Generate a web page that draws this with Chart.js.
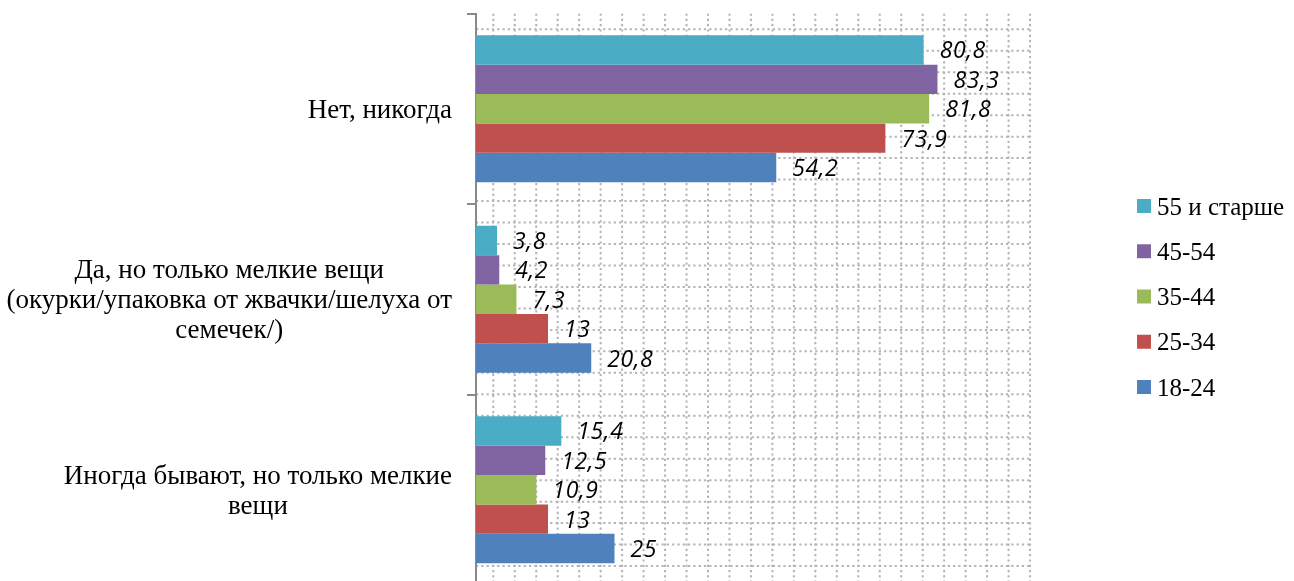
<!DOCTYPE html>
<html>
<head>
<meta charset="utf-8">
<script src="https://cdn.jsdelivr.net/npm/chart.js@4"></script>
<style>
  html, body { margin: 0; padding: 0; overflow: hidden; background: #fff; }
</style>
</head>
<body>
<canvas id="litter-chart" width="1294" height="592"></canvas>
<script>
// answers (multi-line labels) and age groups
const categories = [
  ['Нет, никогда'],
  ['Да, но только мелкие вещи', '(окурки/упаковка от жвачки/шелуха от', 'семечек/)'],
  ['Иногда бывают, но только мелкие', 'вещи']
];
const ageGroups = ['55 и старше', '45-54', '35-44', '25-34', '18-24'];

// percent per answer, one array per age group
const age55plus = [80.8, 3.8, 15.4];
const age45to54 = [83.3, 4.2, 12.5];
const age35to44 = [81.8, 7.3, 10.9];
const age25to34 = [73.9, 13, 13];
const age18to24 = [54.2, 20.8, 25];

const barColors = ['#4bacc6', '#8064a2', '#9bbb59', '#c0504d', '#4f81bd'];
const seriesValues = [age55plus, age45to54, age35to44, age25to34, age18to24];

// dotted background grid behind the bars
const dottedGrid = {
  id: 'dottedGrid',
  beforeDatasetsDraw(chart) {
    const { ctx } = chart;
    const { left, right, top, bottom } = chart.chartArea;
    const step = 21.47;
    ctx.save();
    ctx.beginPath();
    ctx.rect(left + 1, top, right - left + 2, bottom - top);
    ctx.clip();
    ctx.strokeStyle = '#b3b3b3';
    ctx.lineWidth = 2;
    ctx.setLineDash([2.2, 3.1]);
    for (let x = left + 17.3; x <= right + 1; x += step) {
      ctx.beginPath();
      ctx.moveTo(x, top);
      ctx.lineTo(x, bottom);
      ctx.stroke();
    }
    for (let y = top + 15.8; y <= bottom; y += step) {
      ctx.beginPath();
      ctx.moveTo(left, y);
      ctx.lineTo(right, y);
      ctx.stroke();
    }
    ctx.restore();
  }
};

// value next to the end of every bar, decimal comma
const valueLabels = {
  id: 'valueLabels',
  afterDatasetsDraw(chart) {
    const { ctx } = chart;
    ctx.save();
    ctx.font = 'italic 23px "Open Sans"';
    ctx.letterSpacing = '0.6px';
    ctx.fillStyle = '#000';
    ctx.textAlign = 'left';
    ctx.textBaseline = 'middle';
    chart.data.datasets.forEach((ds, i) => {
      chart.getDatasetMeta(i).data.forEach((bar, j) => {
        const txt = String(ds.data[j]).replace('.', ',');
        ctx.fillText(txt, bar.x + 16, bar.y + 2);
      });
    });
    ctx.restore();
  }
};

// category names, each block centred on itself and right-aligned to the axis
const categoryLabels = {
  id: 'categoryLabels',
  afterDraw(chart) {
    const { ctx } = chart;
    const yScale = chart.scales.y;
    const right = chart.chartArea.left - 24;
    ctx.save();
    ctx.font = '27px "Liberation Serif"';
    ctx.fillStyle = '#000';
    ctx.textAlign = 'center';
    ctx.textBaseline = 'middle';
    chart.data.labels.forEach((lines, i) => {
      const widest = Math.max(...lines.map(l => ctx.measureText(l).width));
      const cx = right - widest / 2;
      const cy = yScale.getPixelForValue(i) + 2;
      lines.forEach((line, k) => {
        ctx.fillText(line, cx, cy + (k - (lines.length - 1) / 2) * 30);
      });
    });
    ctx.restore();
  }
};

// legend on the right: coloured squares and serif text
const sideLegend = {
  id: 'sideLegend',
  afterDraw(chart) {
    const { ctx } = chart;
    const x = chart.chartArea.right + 107;
    const y0 = 206;
    ctx.save();
    ctx.font = '25px "Liberation Serif"';
    ctx.textAlign = 'left';
    ctx.textBaseline = 'middle';
    chart.data.datasets.forEach((ds, i) => {
      const y = y0 + i * 45.25;
      ctx.fillStyle = ds.backgroundColor;
      ctx.fillRect(x, y - 7, 14, 14);
      ctx.fillStyle = '#000';
      ctx.fillText(ds.label, x + 20, y + 2);
    });
    ctx.restore();
  }
};

const chartCanvas = document.querySelector('#litter-chart');
const contex = chartCanvas.getContext('2d');

new Chart(contex, {
  type: 'bar',
  data: {
    labels: categories,
    datasets: ageGroups.map((name, i) => ({
      label: name,
      data: seriesValues[i],
      backgroundColor: barColors[i],
      borderWidth: 0,
      categoryPercentage: 0.772,
      barPercentage: 1.0
    }))
  },
  options: {
    indexAxis: 'y',
    responsive: false,
    animation: false,
    layout: { padding: { top: 13.5, right: 264, bottom: 7, left: 0 } },
    plugins: {
      legend: { display: false },
      tooltip: { enabled: false }
    },
    scales: {
      x: { display: false, min: 0, max: 100 },
      y: {
        grid: { offset: true, drawOnChartArea: false, drawTicks: true, tickLength: 9, color: '#8a8a8a', lineWidth: 2 },
        border: { color: '#8a8a8a', width: 2 },
        ticks: { display: false },
        afterFit(scale) { scale.width = 476; }
      }
    }
  },
  plugins: [dottedGrid, valueLabels, categoryLabels, sideLegend]
});
</script>
</body>
</html>
